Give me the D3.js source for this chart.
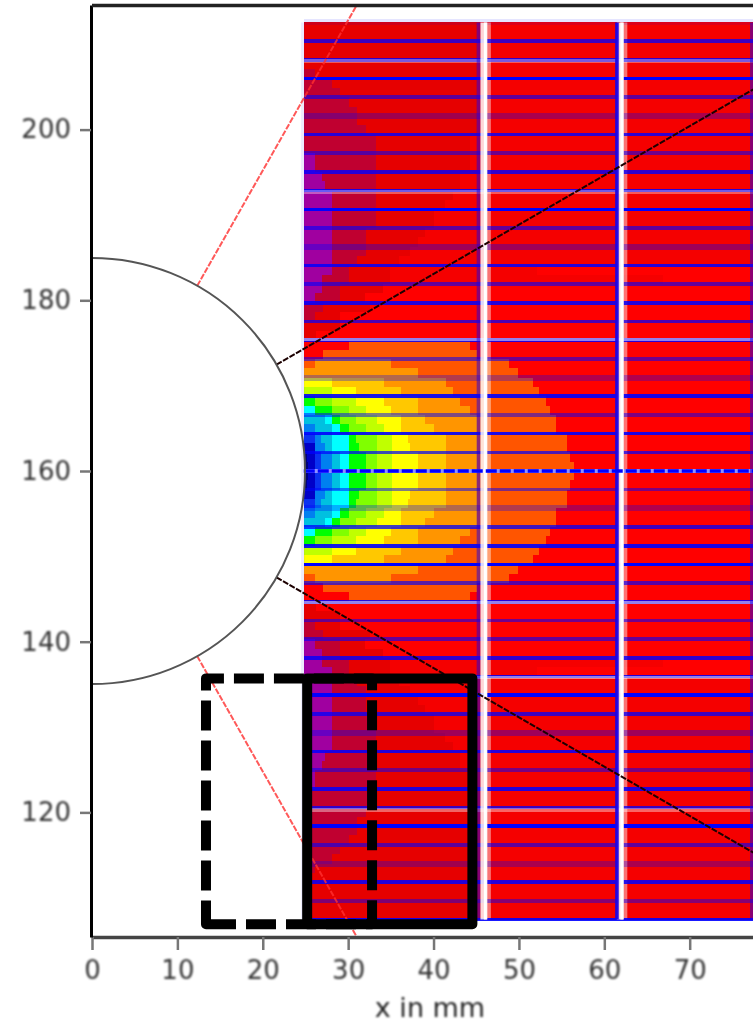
<!DOCTYPE html>
<html>
<head>
<meta charset="utf-8">
<script src="https://cdnjs.cloudflare.com/ajax/libs/d3/7.8.5/d3.min.js"></script>
<style>
    body {margin: 0; background: #fff; overflow: hidden;}
    svg {display: block;}
    .soft {filter: blur(0.9px);}
</style>
</head>
<body>
<script>
//tick labels
var xTicks = [0, 10, 20, 30, 40, 50, 60, 70];
var yTicks = [120, 140, 160, 180, 200];

//plot extent in mm
var xDomain = [0, 78];
var yDomain = [105.4, 214.6];
var heatStart = 24.8, heatEnd = 78;
var rowHeight = 1.095;
var yCentre = 160;

//colour steps of the field, index = level
var levelColors = ['#00007f', '#0000c8', '#0a32f0', '#0080f0', '#00c0e0', '#00ffff', '#00ff00', '#80ff00', '#c0ff00',
    '#ffff00', '#ffc800', '#ff9500', '#ff5500', '#ff0000', '#f50000', '#e60000', '#c00030', '#a000a0'];

//one row per distance from the centre line, mirrored above and below
//each pair is [level, x where that level ends]
var fieldRows = [
    [[0,25.3],[1,26.1],[2,26.8],[3,28.1],[4,29],[5,30.1],[6,32.1],[7,33.4],[8,35.1],[9,38.2],[10,41.5],[11,45.1],[12,56.5],[13,78]],
    [[0,25.2],[1,26.1],[2,26.8],[3,28.1],[4,29],[5,30.1],[6,32.1],[7,33.4],[8,35.1],[9,38.2],[10,41.5],[11,45.1],[12,56],[13,78]],
    [[1,26.1],[3,27.3],[4,28.1],[5,30.1],[6,31.3],[7,33.4],[8,35.1],[9,37.3],[10,41.5],[11,45.1],[12,55.6],[13,78]],
    [[2,26.1],[3,26.8],[4,28.1],[5,30.1],[6,30.9],[7,33.4],[8,35.1],[9,37],[10,41.5],[11,45.1],[12,55.6],[13,78]],
    [[3,26.1],[4,28.1],[5,29],[6,30.1],[7,32.1],[8,34.2],[9,36.2],[10,40],[11,45.1],[12,54.4],[13,78]],
    [[4,27.3],[5,28.1],[6,29],[7,30.9],[8,33.4],[9,36.2],[10,39],[11,45.1],[12,54.4],[13,78]],
    [[5,26.1],[6,28.1],[7,30.1],[8,32.1],[9,35],[10,38.2],[11,44.3],[12,53.6],[13,78]],
    [[6,26.1],[7,28.1],[8,30.9],[9,34.2],[10,38.2],[11,43.1],[12,53.2],[13,78]],
    [[8,28.1],[9,30.9],[10,36.2],[11,42.3],[12,52.3],[13,78]],
    [[9,28.1],[10,34.2],[11,41.5],[12,51.6],[13,78]],
    [[11,38.2],[12,49.9],[13,78]],
    [[12,26.1],[11,35],[12,48.8],[13,78]],
    [[13,27],[12,45.1],[13,78]],
    [[13,30.1],[12,44.3],[13,78]],
    [[15,26.2],[13,78]],
    [[15,29],[13,78]],
    [[16,26.1],[15,29],[13,78]],
    [[16,27],[15,32.6],[13,78]],
    [[17,26.1],[16,29],[15,32],[13,78]],
    [[17,26.9],[16,29],[15,34.1],[13,78]],
    [[17,26.9],[16,30.1],[15,34.9],[14,66.9],[13,78]],
    [[17,28.1],[16,30.1],[15,34.9],[14,52.1],[13,78]],
    [[17,28.1],[16,31],[15,36],[14,78]],
    [[17,28.1],[16,32.1],[15,37.2],[14,78]],
    [[17,28.1],[16,32.1],[15,38.2],[14,78]],
    [[17,28.1],[16,32.1],[15,39],[14,78]],
    [[17,28.1],[16,33.3],[15,40],[14,78]],
    [[17,28.1],[16,33.3],[15,40],[14,78]],
    [[17,28.1],[16,33.3],[15,41.3],[14,78]],
    [[17,28.1],[16,33.3],[15,42.3],[14,78]],
    [[17,27.3],[16,33.3],[15,43.1],[14,78]],
    [[17,26.9],[16,33.3],[15,43.1],[14,78]],
    [[17,26.1],[16,33.3],[15,44.3],[14,78]],
    [[17,26.1],[16,33.3],[15,44.3],[14,78]],
    [[16,33.3],[15,44.3],[14,78]],
    [[16,33.3],[15,44.3],[14,78]],
    [[16,32.1],[15,45.1],[14,78]],
    [[16,31],[15,45.1],[14,78]],
    [[16,31],[15,45.1],[14,78]],
    [[16,30.1],[15,45.1],[14,78]],
    [[16,29],[15,45.1],[14,78]],
    [[16,28.1],[15,45.1],[14,78]],
    [[16,26.1],[15,45.1],[14,78]],
    [[15,45.1],[14,78]],
    [[15,45.1],[14,78]],
    [[15,45.1],[14,78]],
    [[15,45.1],[14,78]],
    [[15,45.1],[14,78]]
];

//grid lines, one every two rows, from the top of the field to the bottom
var gridIndex = d3.range(24, -25, -1);
var gridStrength = [.1, .75, .8, 1, .6, .3, .8, .55, .8, .85, 1, .6, .35, .85, .6, .85, .7, .85, .55, .3, .9, .5, .9, .7, 1,
    .5, .3, .75, .9, 1, .65, .85, .55, .6, .8, .85, 1, .75, .35, .85, .5, .85, .75, 1, .6, .3, .85, .45, .9];

//pale horizontal lines (y in mm) and how strong they show
var paleY = [208.05, 192.7, 175.4, 144.6, 135.8, 120.3];
var paleStrength = [.35, .35, .5, .5, .5, .4];

//vertical lines (x in mm)
var gridX = [24.7, 45.26, 61.48, 77.28];
var gridXStrength = [.08, .5, .95, .5];
var paleX = [46.07, 62.05];

//the round hole and the lines leaving it
var holeRadius = 24.95;
var rayAngles = [60.4, 30, -30, -60.4];
var rayLength = 130;

//the two boxes: [x0, x1, y0, y1]
var dashedBox = [13.35, 32.8, 106.9, 135.7];
var solidBox = [25.2, 44.55, 106.9, 135.7];

var width = 753, height = 1023;

var xScale = d3.scaleLinear().domain(xDomain).range([92, 758]);
var yScale = d3.scaleLinear().domain(yDomain).range([937, 5]);
var mmPx = xScale(1) - xScale(0);

var svg = d3.select('body').append('svg')
    .attr('width', width)
    .attr('height', height);

svg.append('defs').append('clipPath').attr('id', 'plot')
    .append('rect')
    .attr('x', xScale(0))
    .attr('y', yScale(yDomain[1]))
    .attr('width', xScale(xDomain[1]) - xScale(0))
    .attr('height', yScale(yDomain[0]) - yScale(yDomain[1]));

var plot = svg.append('g').attr('clip-path', 'url(#plot)');

//flatten the rows into cells, top half and mirrored bottom half
var cells = [];
fieldRows.forEach(function(row, i) {
    var start = heatStart;
    row.forEach(function(step) {
        cells.push({x0: start, x1: step[1], top: yCentre + (i + 1) * rowHeight, bottom: yCentre + i * rowHeight, level: step[0]});
        cells.push({x0: start, x1: step[1], top: yCentre - i * rowHeight, bottom: yCentre - (i + 1) * rowHeight, level: step[0]});
        start = step[1];
    });
});

plot.append('g').selectAll('rect')
    .data(cells)
    .enter().append('rect')
    .attr('x', function(d) {return xScale(d.x0)})
    .attr('y', function(d) {return yScale(d.top)})
    .attr('width', function(d) {return xScale(d.x1) - xScale(d.x0)})
    .attr('height', function(d) {return yScale(d.bottom) - yScale(d.top)})
    .attr('fill', function(d) {return levelColors[d.level]})
    .attr('shape-rendering', 'crispEdges');

var fieldTop = yCentre + 48 * rowHeight, fieldBottom = yCentre - 48 * rowHeight;

//pale stripe right of each white vertical, goes under the grid
plot.append('g').selectAll('line')
    .data(paleX)
    .enter().append('line')
    .attr('x1', function(d) {return xScale(d) + 3.5})
    .attr('x2', function(d) {return xScale(d) + 3.5})
    .attr('y1', yScale(fieldTop))
    .attr('y2', yScale(fieldBottom))
    .attr('stroke', '#fff')
    .attr('stroke-opacity', 0.45)
    .attr('stroke-width', 4);

//horizontal grid
plot.append('g').selectAll('line')
    .data(gridIndex)
    .enter().append('line')
    .attr('x1', xScale(heatStart))
    .attr('x2', xScale(heatEnd))
    .attr('y1', function(d) {return yScale(yCentre + d * 2 * rowHeight)})
    .attr('y2', function(d) {return yScale(yCentre + d * 2 * rowHeight)})
    .attr('stroke', function(d) {return d === 0 ? '#8f8fff' : '#0000ff'})
    .attr('stroke-opacity', function(d, i) {return gridStrength[i]})
    .attr('stroke-width', function(d, i) {return gridStrength[i] < 0.4 ? 6 : 3.6})
    .attr('shape-rendering', 'crispEdges');

//pale horizontals
plot.append('g').selectAll('line')
    .data(paleY)
    .enter().append('line')
    .attr('x1', xScale(heatStart))
    .attr('x2', xScale(heatEnd))
    .attr('y1', function(d) {return yScale(d)})
    .attr('y2', function(d) {return yScale(d)})
    .attr('stroke', '#fff')
    .attr('stroke-opacity', function(d, i) {return paleStrength[i]})
    .attr('stroke-width', 3.5)
    .attr('shape-rendering', 'crispEdges');

//white verticals
plot.append('g').selectAll('line')
    .data(paleX)
    .enter().append('line')
    .attr('x1', function(d) {return xScale(d) - 1.5})
    .attr('x2', function(d) {return xScale(d) - 1.5})
    .attr('y1', yScale(fieldTop))
    .attr('y2', yScale(fieldBottom))
    .attr('stroke', '#fff')
    .attr('stroke-opacity', 0.84)
    .attr('stroke-width', 7);

plot.append('g').selectAll('line')
    .data(paleX)
    .enter().append('line')
    .attr('x1', xScale)
    .attr('x2', xScale)
    .attr('y1', yScale(fieldTop))
    .attr('y2', yScale(fieldBottom))
    .attr('stroke', '#fff')
    .attr('stroke-width', 3);

//blue verticals
plot.append('g').selectAll('line')
    .data(gridX)
    .enter().append('line')
    .attr('x1', xScale)
    .attr('x2', xScale)
    .attr('y1', yScale(fieldTop))
    .attr('y2', yScale(fieldBottom))
    .attr('stroke', '#1a00e6')
    .attr('stroke-opacity', function(d, i) {return gridXStrength[i]})
    .attr('stroke-width', 3.6);

//centre line is dashed over its pale base
plot.append('line')
    .attr('x1', xScale(heatStart))
    .attr('x2', xScale(heatEnd))
    .attr('y1', yScale(yCentre))
    .attr('y2', yScale(yCentre))
    .attr('stroke', '#0000ff')
    .attr('stroke-width', 3.6)
    .attr('stroke-dasharray', '11 3');

//rays from the hole
function rayEnd(r, deg) {
    return [xScale(r * Math.cos(deg * Math.PI / 180)), yScale(yCentre + r * Math.sin(deg * Math.PI / 180))];
}
plot.append('g').selectAll('line')
    .data(rayAngles)
    .enter().append('line')
    .attr('x1', function(d) {return rayEnd(holeRadius, d)[0]})
    .attr('y1', function(d) {return rayEnd(holeRadius, d)[1]})
    .attr('x2', function(d) {return rayEnd(rayLength, d)[0]})
    .attr('y2', function(d) {return rayEnd(rayLength, d)[1]})
    .attr('stroke', function(d) {return Math.abs(d) > 45 ? '#ff3030' : '#1c0000'})
    .attr('stroke-opacity', function(d) {return Math.abs(d) > 45 ? 0.8 : 1})
    .attr('stroke-width', 2)
    .attr('stroke-dasharray', '6 1.5');

//hole outline
var arc = d3.arc()
    .innerRadius(holeRadius * mmPx)
    .outerRadius(holeRadius * mmPx)
    .startAngle(0)
    .endAngle(Math.PI);
plot.append('path')
    .attr('transform', 'translate(' + xScale(0) + ',' + yScale(yCentre) + ')')
    .attr('d', arc)
    .attr('fill', 'none')
    .attr('stroke', '#555')
    .attr('stroke-width', 2);

//boxes, started at the lower left so the dashes fall where they should
function boxPath(b) {
    return 'M' + xScale(b[0]) + ',' + yScale(b[2]) +
        'H' + xScale(b[1]) + 'V' + yScale(b[3]) + 'H' + xScale(b[0]) + 'Z';
}
svg.append('path')
    .attr('d', boxPath(dashedBox))
    .attr('fill', 'none')
    .attr('stroke', '#000')
    .attr('stroke-width', 10)
    .attr('stroke-linejoin', 'round')
    .attr('stroke-dasharray', '30 10');
svg.append('path')
    .attr('d', boxPath(solidBox))
    .attr('fill', 'none')
    .attr('stroke', '#000')
    .attr('stroke-width', 10)
    .attr('stroke-linejoin', 'round');

//axes
var xAxis = d3.axisBottom(xScale).tickValues(xTicks).tickSize(13).tickPadding(11).tickSizeOuter(0);
var yAxis = d3.axisLeft(yScale).tickValues(yTicks).tickSize(11).tickPadding(9).tickSizeOuter(0);

var xG = svg.append('g')
    .attr('transform', 'translate(0,937)')
    .call(xAxis);
var yG = svg.append('g')
    .attr('transform', 'translate(91,0)')
    .call(yAxis);

[xG, yG].forEach(function(g) {
    g.selectAll('text')
        .attr('class', 'soft')
        .attr('fill', '#333')
        .style('font-family', '"DejaVu Sans"')
        .style('font-size', '26px');
    g.selectAll('.tick line')
        .attr('stroke', '#777')
        .attr('stroke-width', 2.5);
});
xG.select('.domain').attr('stroke', '#444').attr('stroke-width', 3.5);
yG.select('.domain').attr('stroke', '#000').attr('stroke-width', 3);

//top spine
svg.append('line')
    .attr('x1', xScale(0))
    .attr('x2', width)
    .attr('y1', yScale(yDomain[1]) + 0.5)
    .attr('y2', yScale(yDomain[1]) + 0.5)
    .attr('stroke', '#222')
    .attr('stroke-width', 3.5);

svg.append('text')
    .attr('class', 'soft')
    .attr('x', 430)
    .attr('y', 1017)
    .attr('text-anchor', 'middle')
    .attr('fill', '#222')
    .style('font-family', '"DejaVu Sans"')
    .style('font-size', '27px')
    .text('x in mm');
</script>
</body>
</html>
